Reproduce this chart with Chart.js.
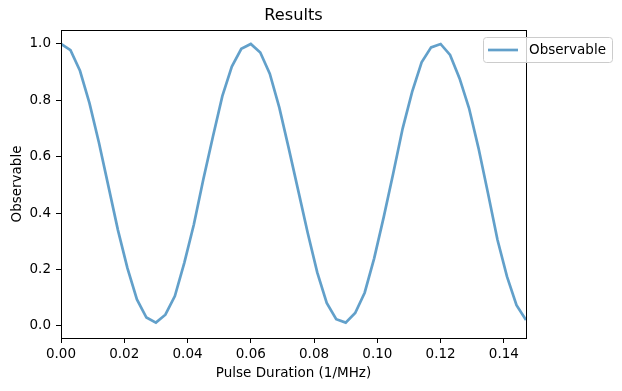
<!DOCTYPE html>
<html>
<head>
<meta charset="utf-8">
<script src="https://cdn.jsdelivr.net/npm/chart.js@4.4.1/dist/chart.umd.min.js"></script>
<style>
  html, body { margin: 0; padding: 0; background: #fff; }
  #wrap { width: 622px; height: 391px; }
</style>
</head>
<body>
<div id="wrap"><canvas id="resultsChart" width="622" height="391"></canvas></div>
<script>
// pulse durations (1/MHz)
const pulseDurations = [
    0.000, 0.003, 0.006, 0.009, 0.012, 0.015, 0.018, 0.021, 0.024, 0.027,
    0.030, 0.033, 0.036, 0.039, 0.042, 0.045, 0.048, 0.051, 0.054, 0.057,
    0.060, 0.063, 0.066, 0.069, 0.072, 0.075, 0.078, 0.081, 0.084, 0.087,
    0.090, 0.093, 0.096, 0.099, 0.102, 0.105, 0.108, 0.111, 0.114, 0.117,
    0.120, 0.123, 0.126, 0.129, 0.132, 0.135, 0.138, 0.141, 0.144, 0.147
];
const observable = [
    1.000, 0.978, 0.905, 0.790, 0.650, 0.495, 0.340, 0.205, 0.094, 0.030,
    0.012, 0.040, 0.106, 0.225, 0.360, 0.520, 0.670, 0.815, 0.920, 0.983,
    1.000, 0.970, 0.895, 0.775, 0.630, 0.480, 0.330, 0.190, 0.082, 0.024,
    0.012, 0.046, 0.118, 0.240, 0.385, 0.540, 0.700, 0.830, 0.935, 0.988,
    1.000, 0.961, 0.878, 0.772, 0.630, 0.470, 0.305, 0.175, 0.074, 0.021
];
const xTicks = [0.00, 0.02, 0.04, 0.06, 0.08, 0.10, 0.12, 0.14];
const yTicks = [0.0, 0.2, 0.4, 0.6, 0.8, 1.0];

const chartTitle = "Results";
const lineColor = "rgba(31,119,180,0.7)";
const fontFamily = "'DejaVu Sans', sans-serif";

// matplotlib-style axes box, title centred over the axes, legend in the corner
const frameAndLegend = {
    id: "frameAndLegend",
    afterDatasetsDraw(chart) {
        const { ctx, chartArea } = chart;
        const l = Math.round(chartArea.left), r = Math.round(chartArea.right);
        const t = Math.round(chartArea.top), b = Math.round(chartArea.bottom);
        ctx.save();
        ctx.strokeStyle = "#000";
        ctx.lineWidth = 1;
        ctx.strokeRect(l + 0.5, t + 0.5, r - l, b - t);

        ctx.fillStyle = "#000";
        ctx.font = "16.2px " + fontFamily;
        ctx.textAlign = "center";
        ctx.textBaseline = "middle";
        ctx.fillText(chartTitle, (chartArea.left + chartArea.right) / 2, t - 14);

        const x0 = r - 43;
        const y0 = t + 7.5;
        ctx.beginPath();
        ctx.roundRect(x0 + 0.5, y0, 129, 25, 3);
        ctx.fillStyle = "rgba(255,255,255,0.8)";
        ctx.fill();
        ctx.strokeStyle = "#cccccc";
        ctx.stroke();

        ctx.beginPath();
        ctx.moveTo(x0 + 5, y0 + 12.5);
        ctx.lineTo(x0 + 35, y0 + 12.5);
        ctx.strokeStyle = lineColor;
        ctx.lineWidth = 2.7;
        ctx.stroke();

        ctx.fillStyle = "#000";
        ctx.font = "13.5px " + fontFamily;
        ctx.textAlign = "left";
        ctx.fillText(chart.data.datasets[0].label, x0 + 46, y0 + 13);
        ctx.restore();
    }
};

const ctx = document.getElementById("resultsChart");
new Chart(ctx, {
    type: "line",
    data: {
        datasets: [
            {
                label: "Observable",
                data: pulseDurations.map((x, i) => ({ x: x, y: observable[i] })),
                borderColor: lineColor,
                borderWidth: 2.7,
                pointRadius: 0,
                tension: 0,
                fill: false,
            },
        ],
    },
    options: {
        responsive: false,
        animation: false,
        layout: { padding: { left: 0, right: 96, top: 30, bottom: 0 } },
        plugins: {
            legend: { display: false },
            tooltip: { enabled: false },
            title: { display: false },
        },
        scales: {
            x: {
                type: "linear",
                min: 0,
                max: 0.147,
                afterBuildTicks: (scale) => { scale.ticks = xTicks.map(v => ({ value: v })); },
                afterFit: (scale) => { scale.height = 53; },
                ticks: {
                    callback: (v) => v.toFixed(2),
                    color: "#000",
                    font: { family: fontFamily, size: 13.5 },
                    padding: 3,
                    maxRotation: 0,
                    autoSkip: false,
                },
                grid: { drawOnChartArea: false, drawTicks: true, tickLength: 5, color: "#000" },
                border: { display: false },
                title: {
                    display: true,
                    text: "Pulse Duration (1/MHz)",
                    color: "#000",
                    font: { family: fontFamily, size: 13.5 },
                    padding: { top: 0, bottom: 9 },
                },
            },
            y: {
                min: -0.0426,
                max: 1.0496,
                afterBuildTicks: (scale) => { scale.ticks = yTicks.map(v => ({ value: v })); },
                afterFit: (scale) => { scale.width = 61; },
                ticks: {
                    callback: (v) => v.toFixed(1),
                    color: "#000",
                    font: { family: fontFamily, size: 13.5 },
                    padding: 5,
                    autoSkip: false,
                },
                grid: { drawOnChartArea: false, drawTicks: true, tickLength: 5, color: "#000" },
                border: { display: false },
                title: {
                    display: true,
                    text: "Observable",
                    color: "#000",
                    font: { family: fontFamily, size: 13.5 },
                    padding: { top: 9, bottom: 0 },
                },
            },
        },
    },
    plugins: [frameAndLegend],
});
</script>
</body>
</html>
